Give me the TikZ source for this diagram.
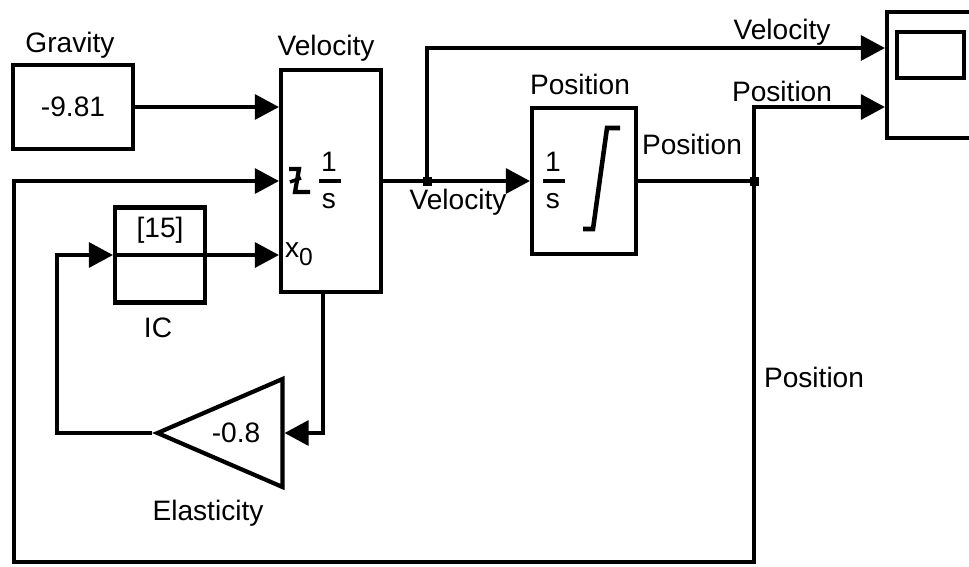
\documentclass[tikz,border=0pt]{standalone}
\usepackage{fontspec}
\setmainfont{Liberation Sans}
\usetikzlibrary{arrows.meta,shapes.geometric}
\begin{document}
\begin{tikzpicture}[x=0.02cm,y=-0.02cm,>={Triangle[length=0.48cm,width=0.5cm]},font=\fontsize{16}{19}\selectfont]
	\tikzset{block/.style={draw,line width=2.4pt,inner sep=0pt},
		sig/.style={line width=1.8pt,->},
		wire/.style={line width=1.8pt},
		gainbox/.style={draw,line width=2.4pt,isosceles triangle,isosceles triangle stretches,shape border rotate=180,minimum width=2.16cm,minimum height=2.5cm,inner sep=0pt},
		dot/.style={fill,inner sep=0pt,minimum size=0.18cm}}
	\def\invs#1#2#3{\node (#1one) at (#2,#3-19) {1};
		\draw[line width=2pt] (#2-10,#3) -- (#2+12,#3);
		\node (#1s) at (#2,#3+20) {s};}
	\useasboundingbox (0,0) rectangle (969,566);
	\clip (0,0) rectangle (969,566);
	% blocks
	\node[block,minimum width=2.4cm,minimum height=1.68cm] (grav) at (73,107) {-9.81};
	\node[block,minimum width=2cm,minimum height=4.44cm] (vint) at (331,181) {};
	\node[block,minimum width=1.8cm,minimum height=1.9cm] (ic) at (160,255) {};
	\node[block,minimum width=2.08cm,minimum height=2.92cm] (pint) at (584,181) {};
	\node[block,minimum width=2.06cm,minimum height=2.52cm] (scope) at (938.5,75) {};
	\node[gainbox,anchor=apex] (gain) at (152,433) {};
	\draw[line width=2.4pt] (897,32) rectangle (964,78);
	% block texts
	\node (gravlabel) at (70,45) {Gravity};
	\node (vintlabel) at (326,48) {Velocity};
	\node (pintlabel) at (580,84) {Position};
	\node (icval) at (160,230) {[15]};
	\node (iclabel) at (158,328) {IC};
	\node (gainval) at (236,433) {-0.8};
	\node (gainlabel) at (208,513) {Elasticity};
	\invs{vint}{329}{181}
	\invs{pint}{553}{181}
	\node (xzero) at (299,254) {x\raisebox{-0.5ex}{\fontsize{14}{16}\selectfont 0}};
	\draw[line width=2.4pt] (289,169) -- (299,169) -- (295,192) -- (310,192);
	\draw[line width=2pt] (290,182) -- (301,178);
	\draw[line width=2.6pt] (583,229) -- (593,229) -- (607,128) -- (620,128);
	% signals
	\node[dot] (vbr) at (427,181) {};
	\node[dot] (pbr) at (754,181) {};
	\draw[sig] (grav.east) -- (grav.east -| vint.west);
	\draw[sig] (vint.east) -- (pint.west);
	\draw[sig] (vbr.center) |- (scope.west |- 0,48);
	\draw[wire] (pint.east) -- (pbr.center);
	\draw[sig] (pbr.center) |- (scope.west |- 0,107);
	\draw[sig] (pbr.center) -- (754,562) -- (14,562) -- (14,181) -- (vint.west);
	\draw[wire] (ic.west) -- (ic.east);
	\draw[sig] (ic.east) -- (vint.west |- ic.east);
	\draw[sig] ([xshift=-0.16cm]vint.south) |- (gain.east);
	\draw[sig] (gain.apex) -- (57,433) |- (ic.west);
	% signal names
	\node (vsig) at (458,202) {Velocity};
	\node (vsigup) at (782,32) {Velocity};
	\node (psig) at (692,144) {Position};
	\node (psigup) at (782,91) {Position};
	\node (psigdown) at (814,377) {Position};
\end{tikzpicture}
\end{document}
